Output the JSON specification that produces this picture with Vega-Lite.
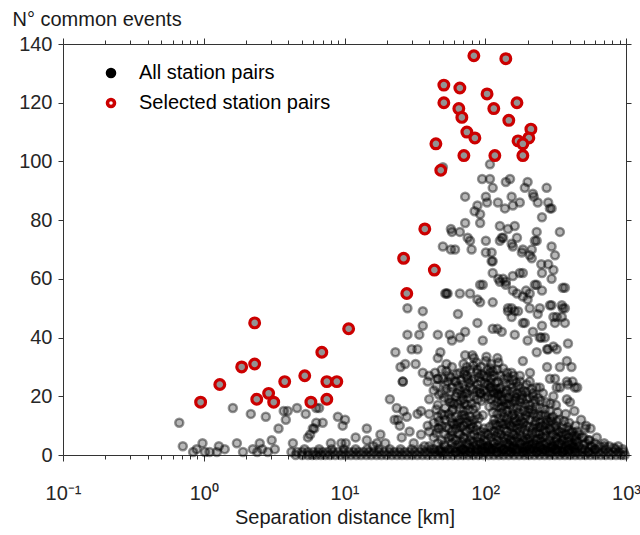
{
"$schema": "https://vega.github.io/schema/vega-lite/v6.json",
"width": 563, "height": 411,
"autosize": {"type": "none"},
"padding": {"left": 63, "top": 44, "right": 14, "bottom": 80},
"background": "white",
"datasets": {
"all": [
{"km":0.67,"n":11},{"km":0.71,"n":3},{"km":0.84,"n":1},{"km":0.89,"n":2},{"km":0.98,"n":4},{"km":1.02,"n":1},{"km":1.1,"n":1},{"km":1.24,"n":1},{"km":1.28,"n":3},{"km":1.41,"n":2},{"km":1.61,"n":16},{"km":1.72,"n":4},{"km":1.9,"n":1},{"km":2.16,"n":14},{"km":2.23,"n":2},{"km":2.4,"n":1},{"km":2.5,"n":4},{"km":2.6,"n":2},{"km":2.76,"n":13},{"km":2.85,"n":1},{"km":3.04,"n":5},{"km":3.2,"n":2},{"km":3.4,"n":9},{"km":3.7,"n":15},{"km":3.83,"n":12},{"km":3.95,"n":15},{"km":4.3,"n":4},{"km":4.6,"n":16},{"km":5.3,"n":14},{"km":5.5,"n":6},{"km":5.7,"n":7},{"km":5.95,"n":9},{"km":6.1,"n":9},{"km":6.3,"n":16},{"km":6.3,"n":11},{"km":6.6,"n":16},{"km":7.0,"n":11},{"km":8.0,"n":4},{"km":8.97,"n":13},{"km":9.7,"n":10},{"km":10.1,"n":12},{"km":9.5,"n":4},{"km":10.2,"n":4},{"km":12,"n":6},{"km":14.4,"n":9},{"km":14.4,"n":5},{"km":16,"n":3},{"km":17,"n":4},{"km":18,"n":7},{"km":19.5,"n":4},{"km":21,"n":19},{"km":22.7,"n":12},{"km":23.5,"n":16},{"km":23.9,"n":12},{"km":24.7,"n":10},{"km":25.5,"n":6},{"km":26.3,"n":15},{"km":27.7,"n":13},{"km":25.9,"n":25},{"km":23,"n":35},{"km":25,"n":30},{"km":33,"n":14},{"km":35,"n":15},{"km":35,"n":7},{"km":39,"n":10},{"km":47,"n":9},{"km":49,"n":14},{"km":58,"n":15},{"km":64,"n":11},{"km":29,"n":8},{"km":31,"n":4},{"km":37,"n":3},
{"km":50,"n":98},{"km":108,"n":99},{"km":95,"n":94},{"km":108,"n":94},{"km":72,"n":88},{"km":101,"n":88},{"km":113,"n":91},{"km":140,"n":93},{"km":150,"n":94},{"km":191,"n":91},{"km":200,"n":93},{"km":273,"n":91},{"km":88,"n":85},{"km":84,"n":83},{"km":92,"n":82},{"km":92,"n":79},{"km":103,"n":86},{"km":123,"n":86},{"km":138,"n":84},{"km":157,"n":85},{"km":176,"n":86},{"km":221,"n":88},{"km":236,"n":86},{"km":280,"n":86},{"km":296,"n":84},{"km":253,"n":81},{"km":72,"n":79},{"km":58,"n":76},{"km":66,"n":76},{"km":75,"n":74},{"km":78,"n":73},{"km":50,"n":71},{"km":61,"n":70},{"km":80,"n":70},{"km":101,"n":73},{"km":127,"n":73},{"km":134,"n":74},{"km":127,"n":78},{"km":162,"n":78},{"km":168,"n":74},{"km":157,"n":71},{"km":185,"n":70},{"km":214,"n":70},{"km":232,"n":76},{"km":232,"n":73},{"km":296,"n":71},{"km":339,"n":76},{"km":101,"n":69},{"km":111,"n":69},{"km":113,"n":66},{"km":207,"n":68},{"km":214,"n":67},{"km":250,"n":65},{"km":313,"n":68},{"km":305,"n":63},{"km":113,"n":62},{"km":157,"n":61},{"km":185,"n":62},{"km":253,"n":62},{"km":296,"n":60},{"km":368,"n":57},{"km":124,"n":60},{"km":140,"n":58},{"km":157,"n":56},{"km":168,"n":55},{"km":96,"n":58},{"km":78,"n":55},{"km":66,"n":55},{"km":54,"n":55},{"km":52,"n":55},{"km":88,"n":53},{"km":92,"n":52},{"km":113,"n":52},{"km":145,"n":50},{"km":154,"n":50},{"km":185,"n":54},{"km":195,"n":56},{"km":200,"n":53},{"km":232,"n":58},{"km":244,"n":50},{"km":296,"n":51},{"km":350,"n":51},{"km":322,"n":47},{"km":368,"n":50},{"km":368,"n":45},{"km":28,"n":50},{"km":36,"n":49},{"km":64,"n":48},{"km":88,"n":45},{"km":113,"n":43},{"km":154,"n":47},{"km":162,"n":49},{"km":185,"n":45},{"km":218,"n":42},{"km":253,"n":44},{"km":305,"n":47},{"km":313,"n":45},{"km":36,"n":44},{"km":34,"n":41},{"km":28,"n":41},{"km":46,"n":41},{"km":56,"n":41},{"km":66,"n":40},{"km":58,"n":39},{"km":72,"n":42},{"km":96,"n":39},{"km":122,"n":43},{"km":131,"n":42},{"km":162,"n":41},{"km":200,"n":39},{"km":244,"n":40},{"km":265,"n":40},{"km":305,"n":37},{"km":387,"n":38},{"km":322,"n":36},{"km":380,"n":32},{"km":275,"n":36},{"km":30,"n":36},{"km":33,"n":36},{"km":48,"n":35},{"km":46,"n":33},{"km":72,"n":34},{"km":81,"n":34},{"km":101,"n":32},{"km":122,"n":33},{"km":185,"n":32},{"km":232,"n":35},{"km":275,"n":30},{"km":313,"n":26},{"km":27,"n":31},{"km":32,"n":31},{"km":36,"n":28},{"km":44,"n":28},{"km":53,"n":31},{"km":50,"n":26},{"km":61,"n":25},{"km":74,"n":30},{"km":88,"n":29},{"km":108,"n":28},{"km":127,"n":27},{"km":154,"n":28},{"km":176,"n":27},{"km":207,"n":25},{"km":26,"n":25},{"km":39,"n":25},{"km":46,"n":26},{"km":54,"n":25},{"km":63,"n":21},{"km":56,"n":18},{"km":72,"n":21},{"km":75,"n":26},{"km":92,"n":21},{"km":108,"n":23},{"km":122,"n":21},{"km":140,"n":21},{"km":157,"n":23},{"km":182,"n":19},{"km":218,"n":21},{"km":244,"n":23},{"km":288,"n":26},{"km":305,"n":20},{"km":339,"n":23},{"km":380,"n":25},{"km":417,"n":25},{"km":450,"n":23},{"km":380,"n":19},
{"km":145,"n":49},{"km":171,"n":49},{"km":207,"n":50},{"km":236,"n":48},{"km":191,"n":45},{"km":288,"n":51},{"km":355,"n":50},{"km":350,"n":47},{"km":250,"n":40},{"km":355,"n":57},{"km":280,"n":36},{"km":410,"n":30},{"km":339,"n":30},{"km":387,"n":24},{"km":433,"n":23},{"km":322,"n":23},{"km":140,"n":59},{"km":225,"n":58},{"km":253,"n":56},{"km":207,"n":55},{"km":154,"n":88},{"km":218,"n":89},{"km":288,"n":84},{"km":131,"n":74},{"km":225,"n":73},{"km":182,"n":69},{"km":280,"n":65},{"km":57,"n":77},{"km":57,"n":70},{"km":145,"n":77},{"km":154,"n":72},{"km":111,"n":66},{"km":134,"n":60},{"km":176,"n":62},{"km":53,"n":55},{"km":92,"n":58},{"km":127,"n":59},
{"km":40,"n":3},{"km":40,"n":8},{"km":40,"n":14},{"km":40,"n":19},{"km":40,"n":27},{"km":43,"n":2},{"km":43,"n":6},{"km":43,"n":11},{"km":43,"n":22},{"km":46,"n":4},{"km":46,"n":9},{"km":46,"n":13},{"km":46,"n":17},{"km":46,"n":26},{"km":49,"n":1},{"km":49,"n":5},{"km":49,"n":10},{"km":49,"n":21},{"km":49,"n":29},{"km":52,"n":3},{"km":52,"n":7},{"km":52,"n":12},{"km":52,"n":16},{"km":52,"n":24},{"km":55,"n":2},{"km":55,"n":6},{"km":55,"n":9},{"km":55,"n":14},{"km":55,"n":19},{"km":55,"n":27},{"km":58,"n":4},{"km":58,"n":8},{"km":58,"n":11},{"km":58,"n":18},{"km":58,"n":23},{"km":58,"n":30},{"km":62,"n":1},{"km":62,"n":5},{"km":62,"n":9},{"km":62,"n":13},{"km":62,"n":20},{"km":62,"n":25},{"km":66,"n":3},{"km":66,"n":7},{"km":66,"n":12},{"km":66,"n":16},{"km":66,"n":22},{"km":66,"n":28},{"km":70,"n":2},{"km":70,"n":6},{"km":70,"n":10},{"km":70,"n":15},{"km":70,"n":19},{"km":70,"n":24},{"km":70,"n":31},{"km":74,"n":4},{"km":74,"n":8},{"km":74,"n":11},{"km":74,"n":17},{"km":74,"n":21},{"km":74,"n":27},{"km":78,"n":1},{"km":78,"n":5},{"km":78,"n":9},{"km":78,"n":13},{"km":78,"n":23},{"km":78,"n":29},{"km":83,"n":3},{"km":83,"n":7},{"km":83,"n":12},{"km":83,"n":20},{"km":83,"n":26},{"km":83,"n":33},{"km":88,"n":2},{"km":88,"n":6},{"km":88,"n":10},{"km":88,"n":19},{"km":88,"n":24},{"km":88,"n":28},{"km":93,"n":4},{"km":93,"n":8},{"km":93,"n":21},{"km":93,"n":25},{"km":93,"n":30},{"km":98,"n":1},{"km":98,"n":5},{"km":98,"n":9},{"km":98,"n":22},{"km":98,"n":27},{"km":104,"n":3},{"km":104,"n":7},{"km":104,"n":20},{"km":104,"n":24},{"km":104,"n":29},{"km":110,"n":2},{"km":110,"n":6},{"km":110,"n":19},{"km":110,"n":23},{"km":110,"n":26},{"km":110,"n":31},{"km":116,"n":4},{"km":116,"n":8},{"km":116,"n":12},{"km":116,"n":17},{"km":116,"n":21},{"km":116,"n":27},{"km":122,"n":1},{"km":122,"n":5},{"km":122,"n":10},{"km":122,"n":14},{"km":122,"n":18},{"km":122,"n":25},{"km":122,"n":29},{"km":129,"n":3},{"km":129,"n":7},{"km":129,"n":11},{"km":129,"n":16},{"km":129,"n":20},{"km":129,"n":23},{"km":136,"n":2},{"km":136,"n":6},{"km":136,"n":9},{"km":136,"n":13},{"km":136,"n":19},{"km":136,"n":26},{"km":143,"n":4},{"km":143,"n":8},{"km":143,"n":12},{"km":143,"n":15},{"km":143,"n":22},{"km":143,"n":28},{"km":151,"n":1},{"km":151,"n":5},{"km":151,"n":10},{"km":151,"n":17},{"km":151,"n":24},{"km":159,"n":3},{"km":159,"n":7},{"km":159,"n":11},{"km":159,"n":14},{"km":159,"n":20},{"km":159,"n":27},{"km":168,"n":2},{"km":168,"n":6},{"km":168,"n":9},{"km":168,"n":16},{"km":168,"n":21},{"km":177,"n":4},{"km":177,"n":8},{"km":177,"n":13},{"km":177,"n":18},{"km":177,"n":25},{"km":187,"n":1},{"km":187,"n":5},{"km":187,"n":11},{"km":187,"n":15},{"km":187,"n":22},{"km":197,"n":3},{"km":197,"n":7},{"km":197,"n":10},{"km":197,"n":19},{"km":197,"n":24},{"km":208,"n":2},{"km":208,"n":6},{"km":208,"n":12},{"km":208,"n":17},{"km":208,"n":28},{"km":219,"n":4},{"km":219,"n":9},{"km":219,"n":14},{"km":219,"n":20},{"km":231,"n":1},{"km":231,"n":5},{"km":231,"n":8},{"km":231,"n":13},{"km":231,"n":23},{"km":244,"n":3},{"km":244,"n":7},{"km":244,"n":11},{"km":244,"n":16},{"km":257,"n":2},{"km":257,"n":6},{"km":257,"n":10},{"km":257,"n":21},{"km":271,"n":4},{"km":271,"n":8},{"km":271,"n":12},{"km":271,"n":18},{"km":286,"n":1},{"km":286,"n":5},{"km":286,"n":9},{"km":286,"n":15},{"km":302,"n":3},{"km":302,"n":7},{"km":302,"n":13},{"km":318,"n":2},{"km":318,"n":6},{"km":318,"n":10},{"km":318,"n":17},{"km":336,"n":4},{"km":336,"n":8},{"km":336,"n":12},{"km":354,"n":1},{"km":354,"n":5},{"km":354,"n":9},{"km":373,"n":3},{"km":373,"n":7},{"km":373,"n":14},{"km":394,"n":2},{"km":394,"n":6},{"km":394,"n":11},{"km":415,"n":4},{"km":415,"n":8},{"km":438,"n":1},{"km":438,"n":5},{"km":438,"n":10},{"km":462,"n":3},{"km":462,"n":7},{"km":487,"n":2},{"km":487,"n":6},{"km":514,"n":4},{"km":514,"n":9},{"km":542,"n":1},{"km":542,"n":5},{"km":572,"n":3},{"km":603,"n":2},
{"km":60,"n":2.5},{"km":60,"n":10.5},{"km":60,"n":17.5},{"km":68,"n":4.5},{"km":68,"n":13.5},{"km":68,"n":20.5},{"km":76,"n":3.5},{"km":76,"n":15.5},{"km":86,"n":1.5},{"km":86,"n":8.5},{"km":86,"n":16.5},{"km":96,"n":3.5},{"km":96,"n":13.5},{"km":107,"n":2.5},{"km":107,"n":9.5},{"km":107,"n":16.5},{"km":119,"n":6.5},{"km":119,"n":22.5},{"km":132,"n":1.5},{"km":132,"n":14.5},{"km":132,"n":18.5},{"km":147,"n":3.5},{"km":147,"n":10.5},{"km":147,"n":19.5},{"km":163,"n":4.5},{"km":163,"n":12.5},{"km":163,"n":18.5},{"km":182,"n":2.5},{"km":182,"n":9.5},{"km":182,"n":20.5},{"km":202,"n":5.5},{"km":202,"n":14.5},{"km":225,"n":2.5},{"km":225,"n":10.5},{"km":225,"n":18.5},{"km":250,"n":4.5},{"km":250,"n":13.5},{"km":279,"n":2.5},{"km":279,"n":11.5},{"km":310,"n":4.5},{"km":310,"n":9.5},{"km":345,"n":2.5},{"km":345,"n":6.5},{"km":383,"n":4.5},{"km":383,"n":9.5},{"km":427,"n":2.5},{"km":427,"n":6.5},
{"km":45,"n":7.5},{"km":45,"n":15.5},{"km":45,"n":23.5},{"km":51,"n":3.5},{"km":51,"n":13.5},{"km":51,"n":19.5},{"km":57,"n":6.5},{"km":57,"n":12.5},{"km":57,"n":21.5},{"km":57,"n":26.5},{"km":64,"n":3.5},{"km":64,"n":7.5},{"km":64,"n":17.5},{"km":64,"n":23.5},{"km":72,"n":1.5},{"km":72,"n":8.5},{"km":72,"n":12.5},{"km":72,"n":22.5},{"km":72,"n":28.5},{"km":80,"n":6.5},{"km":80,"n":10.5},{"km":80,"n":17.5},{"km":80,"n":25.5},{"km":90,"n":4.5},{"km":90,"n":12.5},{"km":90,"n":22.5},{"km":90,"n":26.5},{"km":100,"n":2.5},{"km":100,"n":7.5},{"km":100,"n":19.5},{"km":100,"n":24.5},{"km":113,"n":4.5},{"km":113,"n":10.5},{"km":113,"n":14.5},{"km":113,"n":21.5},{"km":113,"n":28.5},{"km":126,"n":2.5},{"km":126,"n":8.5},{"km":126,"n":12.5},{"km":126,"n":22.5},{"km":140,"n":5.5},{"km":140,"n":10.5},{"km":140,"n":17.5},{"km":140,"n":24.5},{"km":155,"n":2.5},{"km":155,"n":7.5},{"km":155,"n":13.5},{"km":155,"n":21.5},{"km":172,"n":4.5},{"km":172,"n":10.5},{"km":172,"n":14.5},{"km":172,"n":23.5},{"km":192,"n":2.5},{"km":192,"n":8.5},{"km":192,"n":12.5},{"km":192,"n":17.5},{"km":214,"n":3.5},{"km":214,"n":7.5},{"km":214,"n":15.5},{"km":214,"n":22.5},{"km":238,"n":1.5},{"km":238,"n":5.5},{"km":238,"n":9.5},{"km":238,"n":13.5},{"km":238,"n":19.5},{"km":264,"n":3.5},{"km":264,"n":8.5},{"km":264,"n":15.5},{"km":294,"n":2.5},{"km":294,"n":6.5},{"km":294,"n":11.5},{"km":327,"n":3.5},{"km":327,"n":8.5},{"km":327,"n":14.5},{"km":364,"n":1.5},{"km":364,"n":5.5},{"km":364,"n":11.5},{"km":405,"n":3.5},{"km":405,"n":7.5},{"km":450,"n":4.5},
{"km":47,"n":1.5},{"km":47,"n":11.5},{"km":47,"n":20.5},{"km":53,"n":9.5},{"km":53,"n":22.5},{"km":53,"n":28.5},{"km":59,"n":5.5},{"km":59,"n":15.5},{"km":63,"n":10.5},{"km":63,"n":27.5},{"km":67,"n":1.5},{"km":67,"n":9.5},{"km":67,"n":18.5},{"km":67,"n":25.5},{"km":71,"n":5.5},{"km":71,"n":13.5},{"km":71,"n":17.5},{"km":71,"n":27.5},{"km":77,"n":2.5},{"km":77,"n":11.5},{"km":77,"n":19.5},{"km":77,"n":24.5},{"km":82,"n":4.5},{"km":82,"n":9.5},{"km":82,"n":15.5},{"km":82,"n":22.5},{"km":82,"n":30.5},{"km":87,"n":3.5},{"km":87,"n":13.5},{"km":87,"n":21.5},{"km":87,"n":31.5},{"km":94,"n":1.5},{"km":94,"n":6.5},{"km":94,"n":18.5},{"km":94,"n":27.5},{"km":102,"n":4.5},{"km":102,"n":21.5},{"km":102,"n":26.5},{"km":102,"n":33.5},{"km":109,"n":1.5},{"km":109,"n":7.5},{"km":109,"n":24.5},{"km":109,"n":29.5},{"km":118,"n":2.5},{"km":118,"n":10.5},{"km":118,"n":19.5},{"km":118,"n":24.5},{"km":124,"n":3.5},{"km":124,"n":7.5},{"km":124,"n":16.5},{"km":124,"n":20.5},{"km":124,"n":31.5},{"km":134,"n":4.5},{"km":134,"n":10.5},{"km":134,"n":16.5},{"km":134,"n":21.5},{"km":134,"n":29.5},{"km":145,"n":1.5},{"km":145,"n":6.5},{"km":145,"n":13.5},{"km":145,"n":17.5},{"km":145,"n":26.5},{"km":157,"n":4.5},{"km":157,"n":9.5},{"km":157,"n":15.5},{"km":157,"n":18.5},{"km":157,"n":25.5},{"km":166,"n":1.5},{"km":166,"n":7.5},{"km":166,"n":11.5},{"km":166,"n":19.5},{"km":166,"n":24.5},{"km":180,"n":3.5},{"km":180,"n":6.5},{"km":180,"n":11.5},{"km":180,"n":16.5},{"km":180,"n":21.5},{"km":195,"n":1.5},{"km":195,"n":5.5},{"km":195,"n":13.5},{"km":195,"n":21.5},{"km":206,"n":4.5},{"km":206,"n":9.5},{"km":206,"n":15.5},{"km":206,"n":19.5},{"km":228,"n":3.5},{"km":228,"n":7.5},{"km":228,"n":11.5},{"km":228,"n":16.5},{"km":247,"n":2.5},{"km":247,"n":5.5},{"km":247,"n":9.5},{"km":247,"n":18.5},{"km":268,"n":1.5},{"km":268,"n":6.5},{"km":268,"n":10.5},{"km":268,"n":13.5},{"km":290,"n":3.5},{"km":290,"n":8.5},{"km":290,"n":12.5},{"km":290,"n":17.5},{"km":322,"n":1.5},{"km":322,"n":5.5},{"km":322,"n":11.5},{"km":350,"n":3.5},{"km":350,"n":7.5},{"km":390,"n":1.5},{"km":390,"n":4.5},{"km":390,"n":8.5},{"km":440,"n":3.5},{"km":440,"n":6.5},{"km":500,"n":3.5},
{"km":450,"n":8},{"km":500,"n":6},{"km":550,"n":5},{"km":600,"n":4},{"km":650,"n":3},{"km":480,"n":12},{"km":520,"n":10},{"km":430,"n":15},{"km":400,"n":18},{"km":560,"n":9},{"km":620,"n":6},{"km":700,"n":4},{"km":760,"n":3},{"km":820,"n":2.5},
{"km":4.2,"n":1},{"km":4.6,"n":1},{"km":5,"n":1},{"km":5.5,"n":1},{"km":6,"n":1},{"km":6.5,"n":1},{"km":7,"n":1},{"km":7.6,"n":1},{"km":8.3,"n":1},{"km":9,"n":1},{"km":9.8,"n":1},{"km":10.7,"n":1},{"km":11.6,"n":1},{"km":12.6,"n":1},{"km":13.7,"n":1},{"km":14.9,"n":1},{"km":16.2,"n":1},{"km":17.6,"n":1},{"km":19.1,"n":1},{"km":20.8,"n":1},{"km":22.6,"n":1},{"km":24.6,"n":1},{"km":26.7,"n":1},{"km":29,"n":1},{"km":31.5,"n":1},{"km":34.3,"n":1},{"km":37.3,"n":1},{"km":40.5,"n":1},{"km":44,"n":1},{"km":47.8,"n":1},{"km":52,"n":1},{"km":56.5,"n":1},{"km":61.4,"n":1},{"km":66.8,"n":1},{"km":72.6,"n":1},{"km":78.9,"n":1},{"km":85.7,"n":1},{"km":93.2,"n":1},{"km":101,"n":1},{"km":110,"n":1},{"km":120,"n":1},{"km":130,"n":1},{"km":141,"n":1},{"km":154,"n":1},{"km":167,"n":1},{"km":182,"n":1},{"km":197,"n":1},{"km":214,"n":1},{"km":233,"n":1},{"km":253,"n":1},{"km":275,"n":1},{"km":299,"n":1},{"km":325,"n":1},{"km":353,"n":1},{"km":384,"n":1},{"km":417,"n":1},{"km":454,"n":1},{"km":493,"n":1},{"km":536,"n":1},{"km":583,"n":1},{"km":634,"n":1},{"km":689,"n":1},{"km":749,"n":1},{"km":814,"n":1},{"km":885,"n":1},{"km":962,"n":1},
{"km":6.3,"n":0},{"km":6.8,"n":0},{"km":7.3,"n":0},{"km":7.9,"n":0},{"km":8.6,"n":0},{"km":9.4,"n":0},{"km":10.2,"n":0},{"km":11.1,"n":0},{"km":12.1,"n":0},{"km":13.1,"n":0},{"km":14.3,"n":0},{"km":15.5,"n":0},{"km":16.9,"n":0},{"km":18.3,"n":0},{"km":19.9,"n":0},{"km":21.7,"n":0},{"km":23.6,"n":0},{"km":25.6,"n":0},{"km":27.8,"n":0},{"km":30.2,"n":0},{"km":32.9,"n":0},{"km":35.8,"n":0},{"km":38.9,"n":0},{"km":42.2,"n":0},{"km":45.9,"n":0},{"km":49.9,"n":0},{"km":54.2,"n":0},{"km":58.9,"n":0},{"km":64.1,"n":0},{"km":69.6,"n":0},{"km":75.7,"n":0},{"km":82.2,"n":0},{"km":89.4,"n":0},{"km":97.1,"n":0},{"km":106,"n":0},{"km":115,"n":0},{"km":125,"n":0},{"km":135,"n":0},{"km":147,"n":0},{"km":160,"n":0},{"km":174,"n":0},{"km":189,"n":0},{"km":205,"n":0},{"km":223,"n":0},{"km":243,"n":0},{"km":264,"n":0},{"km":287,"n":0},{"km":312,"n":0},{"km":339,"n":0},{"km":368,"n":0},{"km":400,"n":0},{"km":435,"n":0},{"km":473,"n":0},{"km":514,"n":0},{"km":559,"n":0},{"km":608,"n":0},{"km":661,"n":0},{"km":718,"n":0},{"km":781,"n":0},{"km":849,"n":0},{"km":923,"n":0},{"km":980,"n":0},
{"km":41,"n":2},{"km":48,"n":2},{"km":57,"n":2},{"km":68,"n":2},{"km":80,"n":2},{"km":95,"n":2},{"km":112,"n":2},{"km":133,"n":2},{"km":157,"n":2},{"km":186,"n":2},{"km":220,"n":2},{"km":260,"n":2},{"km":307,"n":2},{"km":363,"n":2},{"km":430,"n":2},{"km":508,"n":2},{"km":600,"n":2},{"km":710,"n":2},{"km":840,"n":2},{"km":950,"n":2},{"km":105,"n":3},{"km":150,"n":3},{"km":210,"n":3},{"km":300,"n":3},{"km":420,"n":3},{"km":560,"n":3},{"km":700,"n":3},{"km":880,"n":3},
{"km":5.2,"n":2},{"km":6.6,"n":2},{"km":8.1,"n":2},{"km":9.9,"n":2},{"km":12,"n":2},{"km":14.5,"n":2},{"km":17.5,"n":2},{"km":21,"n":2},{"km":25,"n":2},{"km":30,"n":2},{"km":35,"n":2},{"km":4.5,"n":0},{"km":5.0,"n":0},{"km":5.5,"n":0},{"km":5.9,"n":0}
],
"sel": [
{"km":83.0,"n":136},{"km":140,"n":135},{"km":50.8,"n":126},{"km":66.0,"n":125},{"km":103,"n":123},{"km":50.8,"n":120},{"km":168,"n":120},{"km":64.9,"n":118},{"km":115,"n":118},{"km":68.2,"n":115},{"km":147,"n":114},{"km":211,"n":111},{"km":74.0,"n":110},{"km":84.4,"n":108},{"km":171,"n":107},{"km":204,"n":108},{"km":185,"n":106},{"km":44.6,"n":106},{"km":70.5,"n":102},{"km":117,"n":102},{"km":185,"n":102},{"km":48.3,"n":97},
{"km":37.2,"n":77},{"km":26.3,"n":67},{"km":43.5,"n":63},{"km":27.7,"n":55},
{"km":2.30,"n":45},{"km":10.7,"n":43},{"km":6.9,"n":35},{"km":1.86,"n":30},{"km":2.30,"n":31},{"km":1.30,"n":24},{"km":3.76,"n":25},{"km":5.22,"n":27},{"km":7.49,"n":25},{"km":8.82,"n":25},{"km":2.89,"n":21},{"km":0.95,"n":18},{"km":2.38,"n":19},{"km":3.14,"n":18},{"km":5.77,"n":18},{"km":7.49,"n":19}
]
},
"layer": [
{
"data": {"name": "all"},
"mark": {"type": "point", "shape": "circle", "filled": false, "fillOpacity": 0.28, "strokeOpacity": 0.42, "strokeWidth": 2.5, "size": 64},
"encoding": {
"x": {"field": "km", "type": "quantitative", "scale": {"type": "log", "domain": [0.1, 1000], "nice": false},
"axis": {"orient": "bottom", "title": "Separation distance [km]", "values": [0.1,0.2,0.3,0.4,0.5,0.6,0.7,0.8,0.9,1,2,3,4,5,6,7,8,9,10,20,30,40,50,60,70,80,90,100,200,300,400,500,600,700,800,900,1000],
"labelExpr": "datum.value == 0.1 ? '10⁻¹' : datum.value == 1 ? '10⁰' : datum.value == 10 ? '10¹' : datum.value == 100 ? '10²' : datum.value == 1000 ? '10³' : ''",
"tickSize": {"condition": {"test": "datum.value == 0.1 || datum.value == 1 || datum.value == 10 || datum.value == 100 || datum.value == 1000", "value": 6}, "value": 4},
"labelFlush": false, "labelOverlap": false, "labelPadding": 22, "titlePadding": 4}},
"y": {"field": "n", "type": "quantitative", "scale": {"domain": [0, 140], "nice": false, "zero": false},
"axis": {"orient": "left", "values": [0,20,40,60,80,100,120,140], "title": "N° common events", "titleAngle": 0, "titleAlign": "left", "titleBaseline": "alphabetic", "titleX": -51, "titleY": -19, "tickSize": 5, "labelPadding": 6}},
"fill": {"datum": "All station pairs", "type": "nominal",
"scale": {"domain": ["All station pairs", "Selected station pairs"], "range": ["black", "white"]},
"legend": {"orient": "none", "legendX": 38, "legendY": 19, "title": null, "padding": 0, "labelFontSize": 20, "labelFont": "Liberation Sans", "labelColor": "black", "labelLimit": 0, "symbolSize": 50, "symbolStrokeWidth": 3.5, "labelOffset": 18, "rowPadding": 8,
"encode": {"symbols": {"opacity": {"value": 1}, "fillOpacity": {"value": 1}, "strokeOpacity": {"value": 1}}}}},
"stroke": {"datum": "All station pairs", "type": "nominal",
"scale": {"domain": ["All station pairs", "Selected station pairs"], "range": ["black", "#cc0000"]},
"legend": {"orient": "none", "legendX": 38, "legendY": 19, "title": null, "padding": 0, "labelFontSize": 20, "labelFont": "Liberation Sans", "labelColor": "black", "labelLimit": 0, "symbolSize": 50, "symbolStrokeWidth": 3.5, "labelOffset": 18, "rowPadding": 8,
"encode": {"symbols": {"opacity": {"value": 1}, "fillOpacity": {"value": 1}, "strokeOpacity": {"value": 1}}}}}
}
},
{
"data": {"name": "sel"},
"mark": {"type": "point", "shape": "circle", "filled": false, "fill": "#939393", "stroke": "#cc0000", "fillOpacity": 1, "strokeOpacity": 1, "strokeWidth": 3.2, "size": 95, "opacity": 1},
"encoding": {
"x": {"field": "km", "type": "quantitative",
"axis": {"orient": "top", "labels": false, "title": null, "values": [0.1,0.2,0.3,0.4,0.5,0.6,0.7,0.8,0.9,1,2,3,4,5,6,7,8,9,10,20,30,40,50,60,70,80,90,100,200,300,400,500,600,700,800,900,1000],
"tickSize": {"condition": {"test": "datum.value == 0.1 || datum.value == 1 || datum.value == 10 || datum.value == 100 || datum.value == 1000", "value": 6}, "value": 4}}},
"y": {"field": "n", "type": "quantitative",
"axis": {"orient": "right", "labels": false, "title": null, "values": [0,20,40,60,80,100,120,140], "tickSize": 5}}
}
}
],
"resolve": {"axis": {"x": "independent", "y": "independent"}},
"config": {
"view": {"stroke": null},
"font": "Liberation Sans",
"axis": {"grid": false, "labelFont": "Liberation Sans", "titleFont": "Liberation Sans", "labelFontSize": 20, "titleFontSize": 20, "titleFontWeight": "normal", "labelColor": "#262626", "titleColor": "#1a1a1a", "domainColor": "#333333", "tickColor": "#333333", "domainWidth": 1, "tickWidth": 1}
}
}
